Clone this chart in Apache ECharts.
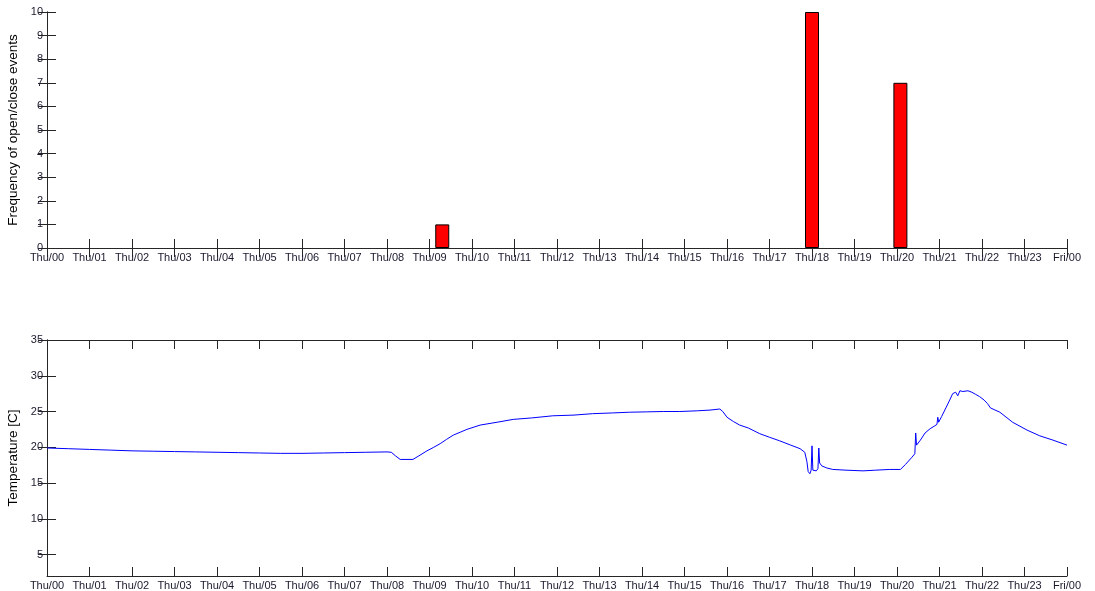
<!DOCTYPE html>
<html>
<head>
<meta charset="utf-8">
<script src="https://cdn.jsdelivr.net/npm/echarts@6/dist/echarts.min.js"></script>
<style>
  html, body { margin: 0; padding: 0; background: #fff; }
  #chart { width: 1095px; height: 591px; }
</style>
</head>
<body>
<div id="chart"></div>
<script>
// hour labels along both x axes
const hourLabels = [
  "Thu/00", "Thu/01", "Thu/02", "Thu/03", "Thu/04", "Thu/05", "Thu/06", "Thu/07",
  "Thu/08", "Thu/09", "Thu/10", "Thu/11", "Thu/12", "Thu/13", "Thu/14", "Thu/15",
  "Thu/16", "Thu/17", "Thu/18", "Thu/19", "Thu/20", "Thu/21", "Thu/22", "Thu/23", "Fri/00"
];

// open/close events: [hour, count]
const eventCounts = [[9.3, 1], [18.0, 10], [20.08, 7]];

// temperature readings: [hour, degC]
const tempReadings = [
  [0, 19.9], [0.5, 19.8], [1, 19.7], [1.5, 19.6], [2, 19.5], [2.5, 19.45], [3, 19.4],
  [3.5, 19.35], [4, 19.3], [4.5, 19.25], [5, 19.2], [5.5, 19.15], [6, 19.15], [6.5, 19.2],
  [7, 19.25], [7.5, 19.3], [8, 19.35], [8.1, 19.3], [8.2, 18.8], [8.31, 18.3], [8.61, 18.3],
  [8.75, 18.8], [8.94, 19.5], [9.1, 20.0], [9.25, 20.5], [9.4, 21.1], [9.56, 21.7],
  [9.72, 22.1], [9.88, 22.5], [10.19, 23.1], [10.59, 23.5], [10.97, 23.9], [11.4, 24.1],
  [11.9, 24.4], [12.4, 24.5], [12.84, 24.7], [13.3, 24.8], [13.7, 24.9], [14.1, 24.95],
  [14.5, 25.0], [14.89, 25.0], [15.3, 25.1], [15.6, 25.2], [15.83, 25.35], [15.9, 25.0],
  [16.0, 24.2], [16.15, 23.6], [16.3, 23.1], [16.5, 22.7], [16.77, 21.9], [17.0, 21.4],
  [17.24, 20.9], [17.5, 20.3], [17.72, 19.8], [17.83, 19.3], [17.88, 18.0], [17.91, 16.6],
  [17.95, 16.3], [17.98, 16.8], [18.0, 20.2], [18.02, 16.8], [18.05, 16.6], [18.1, 16.7],
  [18.14, 17.0], [18.16, 19.9], [18.18, 17.8], [18.23, 17.4], [18.35, 17.1], [18.49, 16.9],
  [18.8, 16.8], [19.2, 16.7], [19.5, 16.8], [19.83, 16.9], [20.08, 16.9], [20.2, 17.6],
  [20.35, 18.6], [20.42, 19.1], [20.44, 22.0], [20.46, 20.3], [20.55, 21.0], [20.66, 22.0],
  [20.78, 22.6], [20.89, 23.0], [20.94, 23.2], [20.96, 24.2], [20.98, 23.5], [21.05, 24.3],
  [21.15, 25.5], [21.24, 26.6], [21.31, 27.5], [21.38, 27.7], [21.43, 27.2], [21.48, 27.9],
  [21.55, 27.8], [21.67, 27.9], [21.76, 27.7], [21.85, 27.4], [21.94, 27.1], [22.05, 26.6],
  [22.13, 26.1], [22.2, 25.5], [22.42, 24.9], [22.72, 23.5], [23.06, 22.4], [23.36, 21.6],
  [23.67, 21.0], [24.0, 20.3]
];

// y tick values for the temperature panel (axis starts at 2, ticks every 5)
const tempTicks = [5, 10, 15, 20, 25, 30, 35];

const FONT = "Liberation Sans";
const AXIS_COLOR = "#262626";
const TEXT_COLOR = "#1a1a2e";

const chart = echarts.init(document.getElementById("chart"), null, { renderer: "canvas" });

// x axis helper - bottom one gets labels, top one only ticks (matlab box style)
function hourAxis(gridIndex, position, showLabels) {
  return {
    type: "value",
    gridIndex,
    position,
    min: 0,
    max: 24,
    interval: 1,
    axisLine: { show: true, lineStyle: { color: AXIS_COLOR, width: 1 } },
    axisTick: { show: true, inside: true, length: 9, lineStyle: { color: AXIS_COLOR } },
    axisLabel: {
      show: showLabels,
      margin: 4,
      fontFamily: FONT,
      fontSize: 11,
      color: TEXT_COLOR,
      formatter: (v) => hourLabels[Math.round(v)] || "",
    },
    splitLine: { show: false },
  };
}

// y axis helper; ticks = null means plain interval ticks
function valueAxis(gridIndex, position, min, max, ticks, showLabels, name) {
  const tick = { show: true, inside: true, length: 9, lineStyle: { color: AXIS_COLOR } };
  const label = {
    show: showLabels,
    margin: 4,
    fontFamily: FONT,
    fontSize: 11,
    color: TEXT_COLOR,
  };
  const axis = {
    type: "value",
    gridIndex,
    position,
    min,
    max,
    name: showLabels ? name : "",
    nameLocation: "middle",
    nameGap: 20,
    nameTextStyle: { fontFamily: FONT, fontSize: 13.5, color: "#000" },
    axisLine: { show: true, lineStyle: { color: AXIS_COLOR, width: 1 } },
    axisTick: tick,
    axisLabel: label,
    splitLine: { show: false },
  };
  if (ticks) {
    tick.customValues = ticks;
    label.customValues = ticks;
  } else {
    axis.interval = 1;
  }
  return axis;
}

chart.setOption({
  animation: false,
  backgroundColor: "#fff",
  grid: [
    { left: 47, right: 28, top: 12, height: 236, outerBoundsMode: "none" },
    { left: 47, right: 28, top: 340, height: 236, outerBoundsMode: "none" },
  ],
  xAxis: [
    hourAxis(0, "bottom", true),
    hourAxis(0, "top", false),
    hourAxis(1, "bottom", true),
    hourAxis(1, "top", false),
  ],
  yAxis: [
    valueAxis(0, "left", 0, 10, null, true, "Frequency of open/close events"),
    valueAxis(0, "right", 0, 10, null, false),
    valueAxis(1, "left", 2, 35, tempTicks, true, "Temperature [C]"),
    valueAxis(1, "right", 2, 35, tempTicks, false),
  ],
  series: [
    {
      type: "bar",
      xAxisIndex: 0,
      yAxisIndex: 0,
      barWidth: 14,
      data: eventCounts,
      itemStyle: { color: "#ff0000", borderColor: "#000", borderWidth: 1 },
    },
    {
      type: "line",
      xAxisIndex: 2,
      yAxisIndex: 2,
      data: tempReadings,
      showSymbol: false,
      lineStyle: { color: "#0000ff", width: 1 },
    },
  ],
});
</script>
</body>
</html>
